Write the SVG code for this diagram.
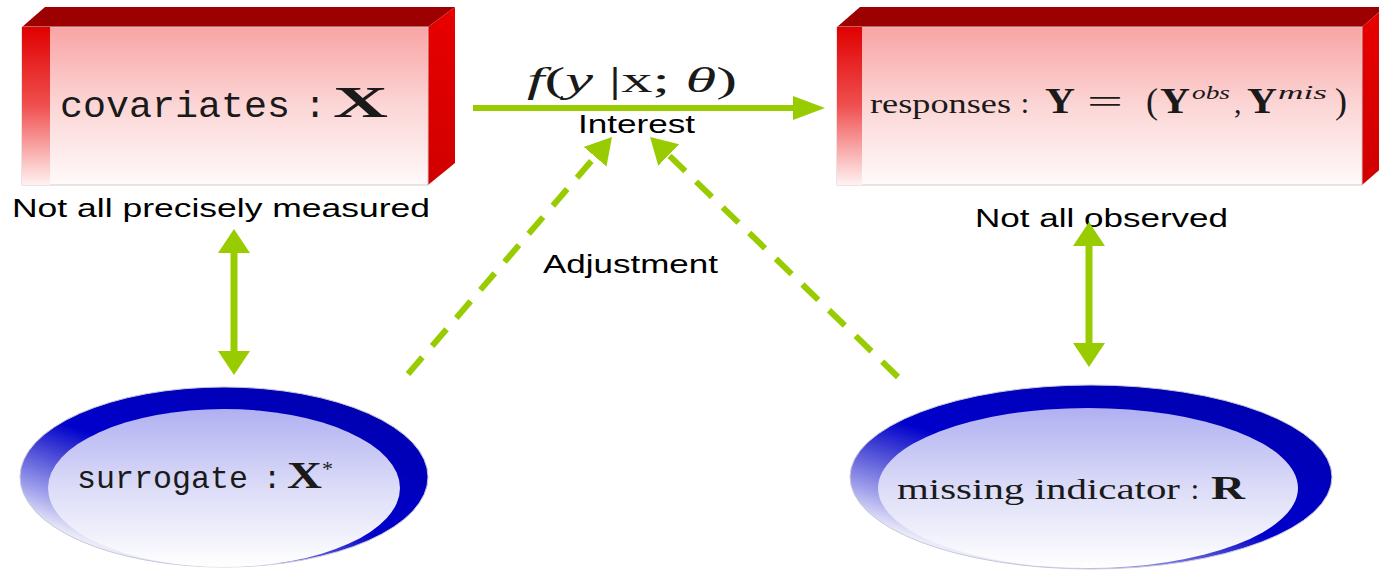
<svg xmlns="http://www.w3.org/2000/svg" width="1379" height="571" viewBox="0 0 1379 571">
<style>
.top{fill:#9c0000}
.side{fill:url(#gSide)}
.front{fill:url(#gFront);stroke:#d8c8c8;stroke-width:1}
.strip{fill:url(#gStrip)}
.back{fill:url(#gBack);stroke:#c8c8d8;stroke-width:1}
.face{fill:url(#gFace)}
.mono{font-family:"Liberation Mono",monospace;fill:#1a1a1a}
.serif{font-family:"Liberation Serif",serif;fill:#1a1a1a}
.bold{font-family:"Liberation Serif",serif;font-weight:bold;fill:#1a1a1a}
.lbl{font-family:"Liberation Sans",Arial,sans-serif;fill:#000}
.solid{stroke:#99cc00;fill:none}
.dash{stroke:#99cc00;fill:none;stroke-width:6;stroke-dasharray:22 15}
</style>
<defs>
<linearGradient id="gFront" x1="0" y1="0" x2="0" y2="1">
<stop offset="0" stop-color="#f9a4a4"/><stop offset="0.5" stop-color="#fcd6d6"/><stop offset="1" stop-color="#fffafa"/>
</linearGradient>
<linearGradient id="gStrip" x1="0" y1="0" x2="0" y2="1">
<stop offset="0" stop-color="#e00000"/><stop offset="0.5" stop-color="#f05050"/><stop offset="1" stop-color="#fff2f2"/>
</linearGradient>
<linearGradient id="gSide" x1="0" y1="0" x2="0" y2="1">
<stop offset="0" stop-color="#e80000"/><stop offset="1" stop-color="#d00000"/>
</linearGradient>
<linearGradient id="gBack" x1="0.85" y1="0.1" x2="0.15" y2="0.95">
<stop offset="0" stop-color="#0000b0"/><stop offset="0.5" stop-color="#0000cc"/><stop offset="0.62" stop-color="#4040d4"/><stop offset="0.8" stop-color="#a0a0ec"/><stop offset="0.92" stop-color="#e8e8f8"/><stop offset="1" stop-color="#ffffff"/>
</linearGradient>
<linearGradient id="gFace" x1="0" y1="0" x2="0" y2="1">
<stop offset="0" stop-color="#b0b0f2"/><stop offset="0.5" stop-color="#dcdcf8"/><stop offset="1" stop-color="#ffffff"/>
</linearGradient>
<marker id="mH" viewBox="0 -20 40 40" markerWidth="40" markerHeight="40" refX="12" refY="0" orient="auto" markerUnits="userSpaceOnUse">
<path d="M0,-12 L32,0 L0,12 Z" fill="#99cc00"/>
</marker>
<marker id="mV" viewBox="0 -20 40 40" markerWidth="40" markerHeight="40" refX="10" refY="0" orient="auto-start-reverse" markerUnits="userSpaceOnUse">
<path d="M0,-16 L24,0 L0,16 Z" fill="#99cc00"/>
</marker>
<marker id="mD" viewBox="0 -20 40 40" markerWidth="40" markerHeight="40" refX="12" refY="0" orient="auto" markerUnits="userSpaceOnUse">
<path d="M0,-15 L26,0 L0,15 Z" fill="#99cc00"/>
</marker>
</defs>

<g id="covariates">
<polygon class="top" points="22,27 45,7 455,7 428,27"/>
<polygon class="side" points="428,27 455,7 455,163 428,185"/>
<rect class="front" x="22" y="27" width="406" height="158"/>
<rect class="strip" x="22" y="27" width="28" height="158"/>
<text class="mono" x="60" y="117" font-size="37" textLength="230" lengthAdjust="spacingAndGlyphs">covariates</text>
<text class="mono" x="315" y="117" font-size="37" text-anchor="middle">:</text>
<text class="bold" x="333" y="117" font-size="45" textLength="55" lengthAdjust="spacingAndGlyphs">X</text>
</g>

<g id="responses">
<polygon class="top" points="837,27 860,7 1385,7 1362,27"/>
<polygon class="side" points="1362,27 1385,7 1385,165 1362,185"/>
<rect class="front" x="837" y="27" width="525" height="158"/>
<rect class="strip" x="837" y="27" width="25" height="158"/>
<text class="serif" x="870" y="113" font-size="28" textLength="141" lengthAdjust="spacingAndGlyphs">responses</text>
<text class="serif" x="1025" y="113" font-size="30" text-anchor="middle">:</text>
<text class="bold" x="1045" y="113" font-size="35" textLength="30" lengthAdjust="spacingAndGlyphs">Y</text>
<text class="serif" x="1087" y="113" font-size="34" textLength="36" lengthAdjust="spacingAndGlyphs">=</text>
<text class="serif" x="1146" y="113" font-size="36">(</text>
<text class="bold" x="1160" y="113" font-size="35" textLength="30" lengthAdjust="spacingAndGlyphs">Y</text>
<text class="serif" x="1192" y="99" font-size="19" font-style="italic" textLength="38" lengthAdjust="spacingAndGlyphs">obs</text>
<text class="serif" x="1234" y="113" font-size="30">,</text>
<text class="bold" x="1247" y="113" font-size="35" textLength="30" lengthAdjust="spacingAndGlyphs">Y</text>
<text class="serif" x="1278" y="99" font-size="19" font-style="italic" textLength="49" lengthAdjust="spacingAndGlyphs">mis</text>
<text class="serif" x="1335" y="113" font-size="36">)</text>
</g>

<g id="surrogate">
<ellipse class="back" cx="224" cy="477" rx="204" ry="90"/>
<ellipse class="face" cx="224" cy="488" rx="176" ry="79"/>
<text class="mono" x="77" y="488" font-size="32" textLength="171" lengthAdjust="spacingAndGlyphs">surrogate</text>
<text class="mono" x="272" y="488" font-size="32" text-anchor="middle">:</text>
<text class="bold" x="287" y="488" font-size="38" textLength="35" lengthAdjust="spacingAndGlyphs">X</text>
<text class="serif" x="322" y="476" font-size="22">*</text>
</g>

<g id="missing">
<ellipse class="back" cx="1091" cy="477" rx="241" ry="92"/>
<ellipse class="face" cx="1088" cy="488" rx="210" ry="80"/>
<text class="serif" x="897" y="499" font-size="30" textLength="283" lengthAdjust="spacingAndGlyphs">missing indicator</text>
<text class="serif" x="1195" y="499" font-size="30" text-anchor="middle">:</text>
<text class="bold" x="1211" y="499" font-size="34" textLength="34" lengthAdjust="spacingAndGlyphs">R</text>
</g>

<g id="labels">
<text class="serif" x="527" y="92" font-size="36" textLength="210" lengthAdjust="spacingAndGlyphs"><tspan font-style="italic">f</tspan>(<tspan font-style="italic">y</tspan> |x; <tspan font-style="italic">θ</tspan>)</text>
<text class="lbl" x="578" y="133" font-size="25" textLength="117" lengthAdjust="spacingAndGlyphs">Interest</text>
<text class="lbl" x="543" y="273" font-size="25" textLength="175" lengthAdjust="spacingAndGlyphs">Adjustment</text>
<text class="lbl" x="12" y="217" font-size="26" textLength="418" lengthAdjust="spacingAndGlyphs">Not all precisely measured</text>
<text class="lbl" x="975" y="227" font-size="26" textLength="253" lengthAdjust="spacingAndGlyphs">Not all observed</text>
</g>

<g id="connectors">
<line class="solid" x1="473" y1="108" x2="805" y2="108" stroke-width="6" marker-end="url(#mH)"/>
<line class="solid" x1="234" y1="243" x2="234" y2="361" stroke-width="7" marker-start="url(#mV)" marker-end="url(#mV)"/>
<line class="solid" x1="1089" y1="236" x2="1089" y2="353" stroke-width="7" marker-start="url(#mV)" marker-end="url(#mV)"/>
<line class="dash" x1="408" y1="374" x2="602.9" y2="147.6" marker-end="url(#mD)"/>
<line class="dash" x1="898" y1="377" x2="660.1" y2="146.7" marker-end="url(#mD)"/>
</g>
</svg>
